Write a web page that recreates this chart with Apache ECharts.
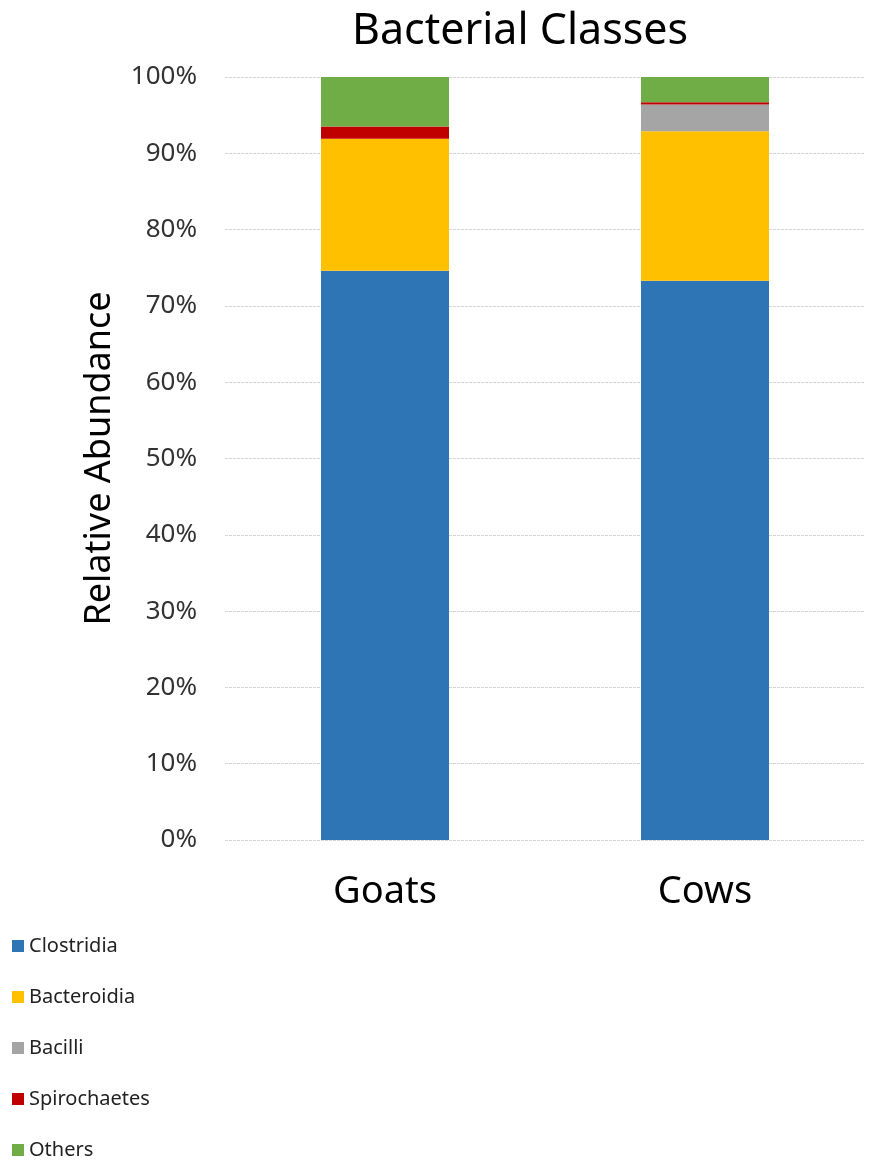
<!DOCTYPE html>
<html>
<head>
<meta charset="utf-8">
<script src="https://cdn.jsdelivr.net/npm/echarts@6/dist/echarts.min.js"></script>
<style>
html,body{margin:0;padding:0;background:#fff;}
#chart{width:870px;height:1169px;}
</style>
</head>
<body>
<div id="chart"></div>
<script>
// Relative abundance (%) of bacterial classes per host
const categories = ['Goats', 'Cows'];
const clostridia = [74.6, 73.3];
const bacteroidia = [17.3, 19.6];
const bacilli = [0, 3.5];
const spirochaetes = [1.6, 0.3];
const others = [6.5, 3.3];
const yTicks = [0, 10, 20, 30, 40, 50, 60, 70, 80, 90, 100];

const seriesDefs = [
  { name: 'Clostridia', data: clostridia, color: '#2E75B6' },
  { name: 'Bacteroidia', data: bacteroidia, color: '#FFC000' },
  { name: 'Bacilli', data: bacilli, color: '#A5A5A5' },
  { name: 'Spirochaetes', data: spirochaetes, color: '#C00000' },
  { name: 'Others', data: others, color: '#70AD47' }
];

const font = '"Noto Sans", "Open Sans", sans-serif';
const chart = echarts.init(document.getElementById('chart'), null, { renderer: 'canvas' });

chart.setOption({
  animation: false,
  backgroundColor: '#ffffff',
  textStyle: { fontFamily: font },
  title: {
    text: 'Bacterial Classes',
    left: 352,
    top: 5,
    padding: [5, 0, 5, 0],
    textStyle: { fontFamily: font, fontSize: 43, fontWeight: 'normal', color: '#000' }
  },
  legend: {
    orient: 'vertical',
    left: 12,
    top: 936,
    height: 236,
    padding: 0,
    itemWidth: 12,
    itemHeight: 12,
    itemGap: 31,
    icon: 'rect',
    textStyle: { fontFamily: font, fontSize: 20, color: '#222', lineHeight: 20 },
    data: seriesDefs.map(s => s.name)
  },
  grid: { left: 225, right: 5, top: 77, bottom: 329, containLabel: false },
  xAxis: {
    type: 'category',
    data: categories,
    axisLine: { show: false },
    axisTick: { show: false },
    axisLabel: { fontFamily: font, fontSize: 38, color: '#000', margin: 33 }
  },
  yAxis: {
    type: 'value',
    min: yTicks[0],
    max: yTicks[yTicks.length - 1],
    interval: 10,
    name: 'Relative Abundance',
    nameLocation: 'middle',
    nameGap: 107,
    nameRotate: 90,
    nameTextStyle: { fontFamily: font, fontSize: 36, color: '#000' },
    axisLine: { show: false },
    axisTick: { show: false },
    axisLabel: { fontFamily: font, fontSize: 26, color: '#333', margin: 28, formatter: v => v + '%' },
    splitLine: { lineStyle: { color: '#d4d4d4', width: 1, type: [3, 1] } }
  },
  series: seriesDefs.map(s => ({
    name: s.name,
    type: 'bar',
    stack: 'total',
    barWidth: '40%',
    data: s.data,
    itemStyle: { color: s.color },
    emphasis: { disabled: true }
  }))
});
</script>
</body>
</html>
